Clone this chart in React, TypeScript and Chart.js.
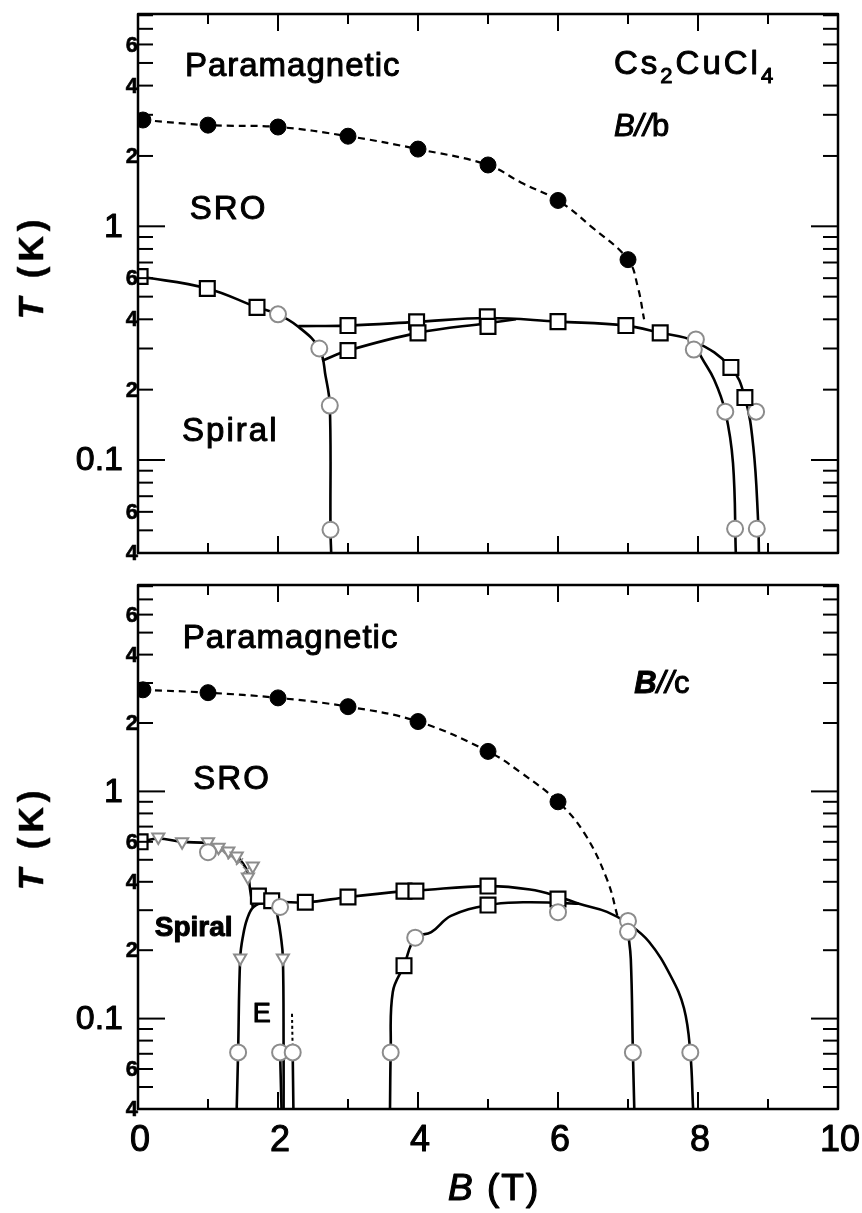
import React, { useEffect, useRef } from 'react';
import { Chart, registerables } from 'chart.js';
Chart.register(...registerables);

// ---------------- Top panel: B // b ----------------
const topTnB = [0.07, 1, 2, 3, 4, 5, 6, 7];
const topTnT = [2.85, 2.71, 2.66, 2.43, 2.14, 1.83, 1.29, 0.72];
const topDashB = [0.07, 1, 2, 3, 4, 5, 5.47, 6, 6.47, 7, 7.14, 7.23];
const topDashT = [2.85, 2.71, 2.66, 2.43, 2.14, 1.83, 1.54, 1.29, 1.0, 0.72, 0.55, 0.4];

const topSqB = [0.03, 0.99, 1.7, 3.0, 3.0, 3.98, 4.0, 4.99, 5.0, 6.0, 6.97, 7.46, 8.47, 8.67];
const topSqT = [0.61, 0.542, 0.45, 0.376, 0.294, 0.39, 0.35, 0.41, 0.373, 0.391, 0.376, 0.35, 0.249, 0.185];

const topCiB = [2.0, 2.59, 2.74, 2.75, 7.97, 7.94, 8.39, 8.83, 8.53, 8.84];
const topCiT = [0.42, 0.3, 0.171, 0.0503, 0.328, 0.297, 0.161, 0.161, 0.0508, 0.0508];

const topMainB = [0.03, 0.99, 1.7, 2.0, 2.29, 2.59, 2.68, 2.74, 2.75, 2.76];
const topMainT = [0.61, 0.542, 0.45, 0.42, 0.372, 0.3, 0.228, 0.171, 0.05, 0.04];

const topUpB = [2.29, 3.0, 3.98, 4.99, 6.0, 6.97, 7.46, 7.95, 8.47, 8.67, 8.79, 8.86, 8.87];
const topUpT = [0.374, 0.376, 0.39, 0.405, 0.391, 0.376, 0.35, 0.322, 0.249, 0.185, 0.114, 0.054, 0.04];

const topLowB = [2.63, 3.0, 4.0, 4.99, 5.4];
const topLowT = [0.266, 0.294, 0.35, 0.385, 0.4];

const topInB = [7.95, 8.05, 8.23, 8.39, 8.5, 8.54];
const topInT = [0.315, 0.275, 0.221, 0.161, 0.097, 0.04];

// ---------------- Bottom panel: B // c ----------------
const botTnB = [0.07, 1, 2, 3, 4, 5, 6];
const botTnT = [2.8, 2.72, 2.58, 2.36, 2.03, 1.5, 0.9];
const botDashB = [0.07, 1, 2, 3, 4, 5, 5.47, 6, 6.37, 6.7, 6.86];
const botDashT = [2.8, 2.72, 2.58, 2.36, 2.03, 1.5, 1.21, 0.9, 0.66, 0.41, 0.275];

const botSqB = [0.03, 1.72, 1.91, 2.39, 3.0, 3.8, 3.97, 3.8, 5.0, 5.0, 6.0];
const botSqT = [0.6, 0.346, 0.33, 0.325, 0.343, 0.364, 0.364, 0.171, 0.383, 0.316, 0.336];

const botTrB = [0.29, 0.63, 1.0, 1.15, 1.29, 1.41, 1.64, 1.57, 1.46, 2.07];
const botTrT = [0.63, 0.6, 0.6, 0.568, 0.546, 0.52, 0.47, 0.42, 0.185, 0.185];

const botXB = [1.08, 1.2, 1.33, 1.45, 1.55];
const botXT = [0.57, 0.55, 0.52, 0.49, 0.45];

const botCiB = [1.0, 2.03, 1.43, 2.03, 2.21, 3.61, 3.96, 6.0, 7.0, 7.0, 7.07, 7.89];
const botCiT = [0.54, 0.31, 0.071, 0.071, 0.071, 0.071, 0.227, 0.294, 0.269, 0.241, 0.071, 0.071];

const botMainB = [0.03, 0.29, 0.63, 1.0, 1.15, 1.29, 1.41, 1.56, 1.6, 1.64];
const botMainT = [0.6, 0.62, 0.6, 0.59, 0.568, 0.546, 0.52, 0.446, 0.372, 0.31];

const botDomeB = [1.41, 1.43, 1.46, 1.5, 1.56, 1.65, 1.8, 1.95, 2.0, 2.04, 2.07, 2.08, 2.08];
const botDomeT = [0.04, 0.071, 0.185, 0.231, 0.275, 0.31, 0.322, 0.31, 0.275, 0.231, 0.185, 0.071, 0.04];

const botUpB = [1.72, 1.91, 2.39, 3.0, 3.8, 3.97, 5.0, 5.6, 6.0, 6.3, 6.7, 7.0, 7.3, 7.61, 7.8, 7.89, 7.93];
const botUpT = [0.346, 0.33, 0.325, 0.343, 0.364, 0.366, 0.383, 0.37, 0.345, 0.32, 0.295, 0.262, 0.218, 0.154, 0.111, 0.071, 0.04];

const botLowB = [3.6, 3.61, 3.64, 3.8, 3.96, 4.19, 4.47, 5.0, 5.5, 6.0, 6.3];
const botLowT = [0.04, 0.071, 0.131, 0.171, 0.227, 0.24, 0.283, 0.316, 0.325, 0.323, 0.32];

const botVertB = [7.0, 7.04, 7.07, 7.09];
const botVertT = [0.241, 0.183, 0.071, 0.04];

const botSegAB = [2.03, 2.05];
const botSegAT = [0.071, 0.04];
const botSegBB = [2.21, 2.22];
const botSegBT = [0.071, 0.04];
const botDotB = [2.2, 2.21];
const botDotT = [0.105, 0.071];

// ---------------- Axes ----------------
const X_MIN = 0;
const X_MAX = 10;
const Y_MIN = 0.04;
const Y_MAX = 8.1;
const X_MAJOR = [0, 2, 4, 6, 8, 10];
const X_MINOR = [1, 3, 5, 7, 9];
const X_LABELS = ['0', '2', '4', '6', '8', '10'];
const Y_MAJOR = [0.1, 1];
const Y_MINOR = [0.04, 0.05, 0.06, 0.07, 0.08, 0.09, 0.2, 0.3, 0.4, 0.5, 0.6, 0.7, 0.8, 0.9, 2, 3, 4, 5, 6, 7, 8];
const Y_SMALL_VALUES = [6, 4, 2, 0.6, 0.4, 0.2, 0.06, 0.04];
const Y_SMALL_LABELS = ['6', '4', '2', '6', '4', '2', '6', '4'];
const Y_BIG_VALUES = [1, 0.1];
const Y_BIG_LABELS = ['1', '0.1'];

const FF = '"Liberation Sans", Arial, Helvetica, sans-serif';

type Run = { t: string; font: string; dy?: number };
type Note = { runs: Run[]; b: number; t: number; spacing?: number };

const topNotes: Note[] = [
  { runs: [{ t: 'Paramagnetic', font: `33px ${FF}` }], b: 0.67, t: 4.4, spacing: 1 },
  { runs: [{ t: 'SRO', font: `33px ${FF}` }], b: 0.74, t: 1.07, spacing: 2 },
  { runs: [{ t: 'Spiral', font: `33px ${FF}` }], b: 0.63, t: 0.12, spacing: 2 },
  {
    runs: [
      { t: 'Cs', font: `33px ${FF}` },
      { t: '2', font: `22px ${FF}`, dy: 9 },
      { t: 'CuCl', font: `33px ${FF}` },
      { t: '4', font: `22px ${FF}`, dy: 9 },
    ],
    b: 6.8, t: 4.48, spacing: 3,
  },
  {
    runs: [
      { t: 'B', font: `italic 31px ${FF}` },
      { t: '//', font: `italic 31px ${FF}` },
      { t: 'b', font: `31px ${FF}` },
    ],
    b: 6.8, t: 2.43, spacing: 0,
  },
];

const botNotes: Note[] = [
  { runs: [{ t: 'Paramagnetic', font: `33px ${FF}` }], b: 0.64, t: 4.28, spacing: 1 },
  { runs: [{ t: 'SRO', font: `33px ${FF}` }], b: 0.79, t: 1.02, spacing: 2 },
  {
    runs: [
      { t: 'B', font: `italic bold 31px ${FF}` },
      { t: '//', font: `italic 31px ${FF}` },
      { t: 'c', font: `31px ${FF}` },
    ],
    b: 7.09, t: 2.72, spacing: 0,
  },
  { runs: [{ t: 'Spiral', font: `bold 28px ${FF}` }], b: 0.24, t: 0.231, spacing: 0 },
  { runs: [{ t: 'E', font: `27px ${FF}` }], b: 1.64, t: 0.097, spacing: 0 },
];

function runsWidth(ctx: CanvasRenderingContext2D, runs: Run[], spacing: number) {
  let w = 0;
  for (const r of runs) {
    ctx.font = r.font;
    (ctx as any).letterSpacing = spacing + 'px';
    w += ctx.measureText(r.t).width;
  }
  return w;
}

// text is filled and lightly stroked to imitate the heavy print of the original
function drawRuns(ctx: CanvasRenderingContext2D, runs: Run[], x: number, y: number, spacing: number, thick = 0.9) {
  let cx = x;
  for (const r of runs) {
    ctx.font = r.font;
    (ctx as any).letterSpacing = spacing + 'px';
    ctx.fillText(r.t, cx, y + (r.dy || 0));
    if (thick > 0) {
      ctx.lineWidth = thick;
      ctx.strokeText(r.t, cx, y + (r.dy || 0));
    }
    cx += ctx.measureText(r.t).width;
  }
}

function heavyText(ctx: CanvasRenderingContext2D, t: string, x: number, y: number, thick: number) {
  ctx.fillText(t, x, y);
  if (thick > 0) {
    ctx.lineWidth = thick;
    ctx.strokeText(t, x, y);
  }
}

function framePlugin(notes: Note[], showX: boolean) {
  return {
    id: 'frame',
    afterDraw(chart: any) {
      const { ctx, chartArea: a } = chart;
      const x = chart.scales.x;
      const y = chart.scales.y;
      ctx.save();
      ctx.strokeStyle = '#000';
      ctx.fillStyle = '#000';
      ctx.lineCap = 'butt';
      ctx.lineJoin = 'round';
      // ticks
      ctx.lineWidth = 2;
      const line = (x1: number, y1: number, x2: number, y2: number) => {
        ctx.beginPath();
        ctx.moveTo(x1, y1);
        ctx.lineTo(x2, y2);
        ctx.stroke();
      };
      for (const v of X_MAJOR) {
        const p = x.getPixelForValue(v);
        line(p, a.bottom, p, a.bottom - 17);
        line(p, a.top, p, a.top + 17);
      }
      for (const v of X_MINOR) {
        const p = x.getPixelForValue(v);
        line(p, a.bottom, p, a.bottom - 10);
        line(p, a.top, p, a.top + 10);
      }
      for (const v of Y_MAJOR) {
        const p = y.getPixelForValue(v);
        line(a.left, p, a.left + 27, p);
        line(a.right, p, a.right - 27, p);
      }
      for (const v of Y_MINOR) {
        const p = y.getPixelForValue(v);
        line(a.left, p, a.left + 15, p);
        line(a.right, p, a.right - 15, p);
      }
      // frame
      ctx.lineWidth = 2.5;
      ctx.strokeRect(a.left, a.top, a.right - a.left, a.bottom - a.top);

      // y tick labels
      ctx.textAlign = 'right';
      ctx.textBaseline = 'middle';
      ctx.font = `bold 22px ${FF}`;
      Y_SMALL_VALUES.forEach((v, i) => {
        heavyText(ctx, Y_SMALL_LABELS[i], a.left, y.getPixelForValue(v) + 1, 0.6);
      });
      ctx.font = `34px ${FF}`;
      Y_BIG_VALUES.forEach((v, i) => {
        heavyText(ctx, Y_BIG_LABELS[i], a.left - 15, y.getPixelForValue(v) + 1, 1);
      });

      // x tick labels
      if (showX) {
        ctx.textAlign = 'center';
        ctx.font = `36px ${FF}`;
        X_MAJOR.forEach((v, i) => {
          heavyText(ctx, X_LABELS[i], x.getPixelForValue(v) + 2, a.bottom + 32, 1);
        });
        // x title
        ctx.textAlign = 'left';
        ctx.textBaseline = 'alphabetic';
        drawRuns(ctx, [
          { t: 'B', font: `italic 37px ${FF}` },
          { t: ' (T)', font: `37px ${FF}` },
        ], a.left + 310, a.bottom + 91, 2, 1.2);
      }

      // y title
      ctx.save();
      const ty: Run[] = [
        { t: 'T', font: `italic bold 35px ${FF}` },
        { t: ' (K)', font: `bold 35px ${FF}` },
      ];
      ctx.textAlign = 'left';
      ctx.textBaseline = 'middle';
      const w = runsWidth(ctx, ty, 5);
      ctx.translate(a.left - 105, a.top + 253);
      ctx.rotate(-Math.PI / 2);
      drawRuns(ctx, ty, -w / 2, 0, 5, 0.5);
      ctx.restore();

      // annotations
      ctx.textAlign = 'left';
      ctx.textBaseline = 'alphabetic';
      for (const n of notes) {
        drawRuns(ctx, n.runs, x.getPixelForValue(n.b), y.getPixelForValue(n.t), n.spacing || 0, 1);
      }
      (ctx as any).letterSpacing = '0px';
      ctx.restore();
    },
  };
}

const pts = (xs: number[], ys: number[]) => xs.map((v, i) => ({ x: v, y: ys[i] }));

function lineDs(xs: number[], ys: number[], dash: number[] = [], width = 2.6) {
  return {
    type: 'line' as const,
    data: pts(xs, ys),
    borderColor: '#000',
    borderWidth: width,
    borderDash: dash,
    pointRadius: 0,
    tension: 0.4,
    cubicInterpolationMode: 'default',
    fill: false,
    showLine: true,
    order: 2,
  };
}

function markDs(xs: number[], ys: number[], style: string, r: number, border: string, bg: string, bw: number, rot = 0) {
  return {
    type: 'scatter' as const,
    data: pts(xs, ys),
    showLine: false,
    pointStyle: style,
    pointRadius: r,
    pointBorderColor: border,
    pointBackgroundColor: bg,
    pointBorderWidth: bw,
    pointRotation: rot,
    order: 1,
  };
}

const GREY = '#8c8c8c';

function topDatasets() {
  return [
    lineDs(topDashB, topDashT, [7, 5], 2.2),
    lineDs(topMainB, topMainT),
    lineDs(topUpB, topUpT),
    lineDs(topLowB, topLowT),
    lineDs(topInB, topInT),
    markDs(topTnB, topTnT, 'circle', 8, '#000', '#000', 1),
    markDs(topSqB, topSqT, 'rect', 10.5, '#000', '#fff', 2.2),
    markDs(topCiB, topCiT, 'circle', 8, GREY, '#fff', 2),
  ];
}

function botDatasets() {
  return [
    lineDs(botDashB, botDashT, [7, 5], 2.2),
    lineDs(botMainB, botMainT),
    lineDs(botDomeB, botDomeT),
    lineDs(botUpB, botUpT),
    lineDs(botLowB, botLowT),
    lineDs(botVertB, botVertT),
    lineDs(botSegAB, botSegAT),
    lineDs(botSegBB, botSegBT),
    lineDs(botDotB, botDotT, [3, 3], 2),
    markDs(botTnB, botTnT, 'circle', 8, '#000', '#000', 1),
    markDs(botCiB, botCiT, 'circle', 8, GREY, '#fff', 2),
    markDs(botTrB, botTrT, 'triangle', 7, GREY, '#fff', 2, 180),
    markDs(botXB, botXT, 'crossRot', 5, GREY, GREY, 1.5),
    markDs(botSqB, botSqT, 'rect', 10.5, '#000', '#fff', 2.2),
  ];
}

function makeChart(canvas: HTMLCanvasElement, datasets: any[], padding: any, notes: Note[], showX: boolean) {
  return new Chart(canvas, {
    type: 'scatter',
    data: { datasets },
    options: {
      responsive: false,
      animation: false,
      events: [],
      layout: { padding },
      plugins: { legend: { display: false }, tooltip: { enabled: false } },
      scales: {
        x: { type: 'linear', min: X_MIN, max: X_MAX, display: false },
        y: { type: 'logarithmic', min: Y_MIN, max: Y_MAX, display: false },
      },
    } as any,
    plugins: [framePlugin(notes, showX)],
  } as any);
}

export default function App() {
  const topRef = useRef<HTMLCanvasElement>(null);
  const botRef = useRef<HTMLCanvasElement>(null);

  useEffect(() => {
    const c1 = makeChart(topRef.current!, topDatasets(), { left: 138, right: 24, top: 14, bottom: 17 }, topNotes, false);
    const c2 = makeChart(botRef.current!, botDatasets(), { left: 138, right: 24, top: 15, bottom: 104 }, botNotes, true);
    return () => {
      c1.destroy();
      c2.destroy();
    };
  }, []);

  return (
    <div style={{ position: 'absolute', left: 0, top: 0, width: 862, height: 1213, background: '#fff' }}>
      <canvas ref={topRef} width={862} height={570} style={{ position: 'absolute', left: 0, top: 0, width: 862, height: 570 }} />
      <canvas ref={botRef} width={862} height={643} style={{ position: 'absolute', left: 0, top: 570, width: 862, height: 643 }} />
    </div>
  );
}
